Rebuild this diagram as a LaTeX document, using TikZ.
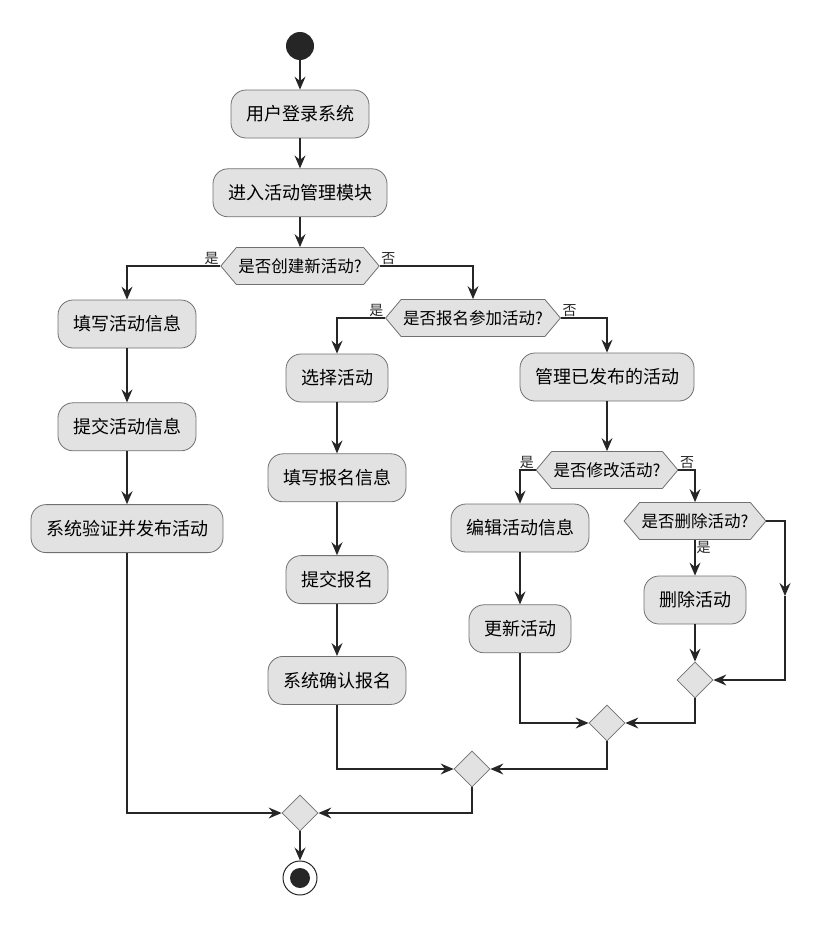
\documentclass[tikz,border=0pt]{standalone}
\usepackage{fontspec}
\setmainfont{Noto Sans CJK SC}
\usepackage{tikz}
\usetikzlibrary{arrows.meta,positioning,shapes.geometric,shapes.symbols}
\definecolor{actfill}{RGB}{226,226,226}
\definecolor{actline}{RGB}{112,112,112}
\definecolor{flowline}{RGB}{38,38,38}

\begin{document}
\begin{tikzpicture}[
  x=1pt,y=-1pt,
  every node/.style={align=center},
  activity/.style={rounded corners=15pt,draw=actline,line width=0.8pt,fill=actfill,
                minimum height=48pt,inner xsep=15pt,font=\fontsize{18}{21}\selectfont},
  choice/.style={signal,signal to=west and east,signal pointer angle=100,
                draw=actline,line width=0.8pt,fill=actfill,minimum height=37pt,
                inner xsep=2pt,font=\fontsize{16.5}{19}\selectfont},
  merge/.style={diamond,draw=actline,line width=0.8pt,fill=actfill,
                minimum size=36pt,inner sep=0pt},
  startdot/.style={circle,fill=flowline,minimum size=28pt,inner sep=0pt},
  endring/.style={circle,draw=flowline,line width=1pt,fill=white,minimum size=34pt,inner sep=0pt},
  enddot/.style={circle,fill=flowline,minimum size=20pt,inner sep=0pt},
  guard/.style={font=\fontsize{14}{16}\selectfont,inner sep=1pt},
  flow/.style={-{Stealth[length=13pt,width=11pt,inset=4.5pt]},line width=1.2pt,flowline}
]
\useasboundingbox (0,0) rectangle (839,926);

% --- Entry ---
\node[startdot] (start) at (300,46) {};
\node[activity] (login) at (300,114) {用户登录系统};
\node[activity,below=30pt of login] (enter) {进入活动管理模块};
\node[choice] (dcreate) at (300,266) {是否创建新活动?};

% --- Create branch (left column) ---
\node[activity] (fillinfo) at (127,324) {填写活动信息};
\node[activity,below=54pt of fillinfo] (submitinfo) {提交活动信息};
\node[activity,below=53pt of submitinfo] (publish) {系统验证并发布活动};

% --- Sign-up decision ---
\node[choice] (dsignup) at (473,318) {是否报名参加活动?};
\node[activity] (select) at (337,378) {选择活动};
\node[activity,below=51pt of select] (fillsign) {填写报名信息};
\node[activity,below=53pt of fillsign] (submitsign) {提交报名};
\node[activity,below=52pt of submitsign] (confirm) {系统确认报名};

% --- Manage branch ---
\node[activity] (manage) at (607,377) {管理已发布的活动};
\node[choice] (dmodify) at (607,470) {是否修改活动?};
\node[activity] (edit) at (520,528) {编辑活动信息};
\node[activity,below=52pt of edit] (update) {更新活动};
\node[choice] (ddelete) at (695,521) {是否删除活动?};
\node[activity] (delete) at (695,600) {删除活动};
\coordinate (dskip) at (785,521);
\coordinate (dskipmid) at (785,596);

% --- Merges and exit ---
\node[merge] (m1) at (695,680) {};
\node[merge] (m2) at (607,723) {};
\node[merge] (m3) at (472,769) {};
\node[merge] (m4) at (300,813) {};
\node[endring] (finish) at (300,878) {};
\node[enddot] at (finish) {};

% --- Main flow ---
\draw[flow] (start) -- (login);
\draw[flow] (login) -- (enter);
\draw[flow] (enter) -- (dcreate.north);
\draw[flow] (dcreate.west) -| (fillinfo.north)
  node[pos=0,guard,above left] {是};
\draw[flow] (dcreate.east) -| (dsignup.north)
  node[pos=0,guard,above right] {否};
\draw[flow] (fillinfo) -- (submitinfo);
\draw[flow] (submitinfo) -- (publish);
\draw[flow] (dsignup.west) -| (select.north)
  node[pos=0,guard,above left] {是};
\draw[flow] (dsignup.east) -| (manage.north)
  node[pos=0,guard,above right] {否};
\draw[flow] (select) -- (fillsign);
\draw[flow] (fillsign) -- (submitsign);
\draw[flow] (submitsign) -- (confirm);
\draw[flow] (manage) -- (dmodify.north);
\draw[flow] (dmodify.west) -| (edit.north)
  node[pos=0,guard,above left] {是};
\draw[flow] (dmodify.east) -| (ddelete.north)
  node[pos=0,guard,above right] {否};
\draw[flow] (edit) -- (update);
\draw[flow] (ddelete.south) -- (delete.north)
  node[pos=0,guard,below right] {是};
\draw[flow] (delete) -- (m1.north);
\draw[flow] (ddelete.east) -- (dskip) -- (dskipmid);
\draw[flow] (dskipmid) -- (dskipmid |- m1.east) -- (m1.east);

% --- Joins ---
\draw[flow] (update.south) |- (m2.west);
\draw[flow] (m1.south) |- (m2.east);
\draw[flow] (confirm.south) |- (m3.west);
\draw[flow] (m2.south) |- (m3.east);
\draw[flow] (publish.south) |- (m4.west);
\draw[flow] (m3.south) |- (m4.east);
\draw[flow] (m4) -- (finish);
\end{tikzpicture}
\end{document}
